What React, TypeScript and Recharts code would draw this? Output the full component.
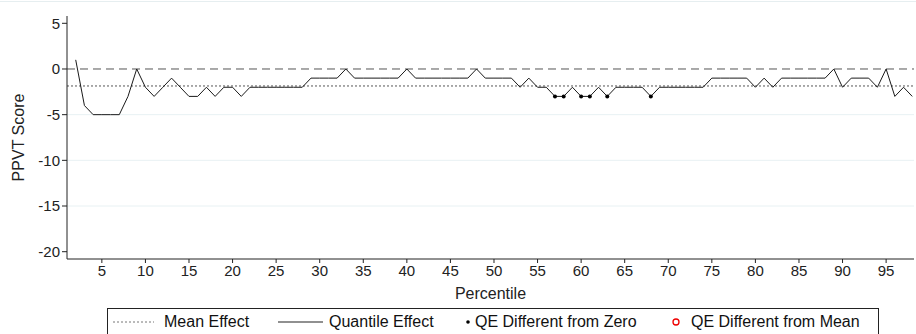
import React from 'react';
import { ComposedChart, Line, XAxis, YAxis, ReferenceLine } from 'recharts';

// percentiles 2..98
const percentiles = [
  2, 3, 4, 5, 6, 7, 8, 9, 10, 11, 12, 13, 14, 15, 16, 17, 18, 19, 20, 21,
  22, 23, 24, 25, 26, 27, 28, 29, 30, 31, 32, 33, 34, 35, 36, 37, 38, 39, 40,
  41, 42, 43, 44, 45, 46, 47, 48, 49, 50, 51, 52, 53, 54, 55, 56, 57, 58, 59,
  60, 61, 62, 63, 64, 65, 66, 67, 68, 69, 70, 71, 72, 73, 74, 75, 76, 77, 78,
  79, 80, 81, 82, 83, 84, 85, 86, 87, 88, 89, 90, 91, 92, 93, 94, 95, 96, 97, 98,
];

const quantileEffect = [
  1, -4, -5, -5, -5, -5, -3, 0, -2, -3, -2, -1, -2, -3, -3, -2, -3, -2, -2, -3,
  -2, -2, -2, -2, -2, -2, -2, -1, -1, -1, -1, 0, -1, -1, -1, -1, -1, -1, 0,
  -1, -1, -1, -1, -1, -1, -1, 0, -1, -1, -1, -1, -2, -1, -2, -2, -3, -3, -2,
  -3, -3, -2, -3, -2, -2, -2, -2, -3, -2, -2, -2, -2, -2, -2, -1, -1, -1, -1,
  -1, -2, -1, -2, -1, -1, -1, -1, -1, -1, 0, -2, -1, -1, -1, -2, 0, -3, -2, -3,
];

// percentiles where the quantile effect differs from zero
const diffFromZero = [57, 58, 60, 61, 63, 68];

const meanEffect = -1.86;

const xTicks = [5, 10, 15, 20, 25, 30, 35, 40, 45, 50, 55, 60, 65, 70, 75, 80, 85, 90, 95];
const yTicks = [5, 0, -5, -10, -15, -20];
const gridValues = [-5, -10, -15];

const data = percentiles.map((p, i) => ({
  p,
  qe: quantileEffect[i],
  zero: diffFromZero.includes(p) ? quantileEffect[i] : null,
}));

const font = '"Liberation Sans", Arial, sans-serif';
const ink = '#222';

const Legend = () => (
  <div
    style={{
      position: 'absolute',
      left: 107,
      top: 308,
      width: 770,
      height: 30,
      border: `1px solid ${ink}`,
      fontFamily: font,
      fontSize: 16,
      color: '#111',
    }}
  >
    <svg width={770} height={30} style={{ position: 'absolute', left: 0, top: 0 }}>
      <line x1={5} x2={46} y1={13} y2={13} stroke="#777" strokeDasharray="2 2" />
      <line x1={170} x2={215} y1={13} y2={13} stroke={ink} strokeWidth={1.2} />
      <circle cx={360} cy={13} r={1.8} fill="#000" />
      <circle cx={568} cy={13} r={3} fill="none" stroke="#e00" strokeWidth={1.3} />
    </svg>
    <span style={{ position: 'absolute', left: 56, top: 4 }}>Mean Effect</span>
    <span style={{ position: 'absolute', left: 221, top: 4 }}>Quantile Effect</span>
    <span style={{ position: 'absolute', left: 367, top: 4 }}>QE Different from Zero</span>
    <span style={{ position: 'absolute', left: 583, top: 4 }}>QE Different from Mean</span>
  </div>
);

export default function App() {
  return (
    <div
      style={{
        position: 'absolute',
        left: 0,
        top: 0,
        width: 916,
        height: 334,
        overflow: 'hidden',
        background: '#fff',
        fontFamily: font,
      }}
    >
      <div style={{ position: 'absolute', left: 0, top: 1, width: 916, borderTop: '1px solid #e6eef0' }} />
      <ComposedChart
        width={916}
        height={334}
        data={data}
        margin={{ top: 16, right: 2, bottom: 34, left: 7 }}
      >
        {gridValues.map((v) => (
          <ReferenceLine key={v} y={v} stroke="#e8f1f3" strokeWidth={1} />
        ))}
        <XAxis
          type="number"
          dataKey="p"
          domain={[1, 98.2]}
          ticks={xTicks}
          allowDataOverflow
          height={41}
          tickSize={4}
          tickLine={{ stroke: ink }}
          axisLine={{ stroke: ink }}
          tick={{ fontSize: 15, fill: ink, fontFamily: font }}
          label={{ value: 'Percentile', position: 'insideBottom', offset: 1, fontSize: 16, fill: ink, fontFamily: font }}
        />
        <YAxis
          type="number"
          domain={[-20.8, 5.8]}
          ticks={yTicks}
          allowDataOverflow
          width={60}
          tickSize={5}
          tickLine={{ stroke: ink }}
          axisLine={{ stroke: ink }}
          tick={{ fontSize: 15, fill: ink, fontFamily: font }}
          label={{
            value: 'PPVT Score',
            angle: -90,
            position: 'insideLeft',
            offset: 11,
            fontSize: 16,
            fill: ink,
            fontFamily: font,
            style: { textAnchor: 'middle' },
          }}
        />
        <ReferenceLine y={0} stroke="#555" strokeDasharray="8 5" />
        <ReferenceLine y={meanEffect} stroke="#555" strokeDasharray="2 2" />
        <Line
          type="linear"
          dataKey="qe"
          stroke="#1a1a1a"
          strokeWidth={1}
          dot={false}
          isAnimationActive={false}
        />
        <Line
          type="linear"
          dataKey="zero"
          stroke="none"
          dot={{ r: 2, fill: '#000', stroke: 'none' }}
          isAnimationActive={false}
        />
      </ComposedChart>
      <Legend />
    </div>
  );
}
